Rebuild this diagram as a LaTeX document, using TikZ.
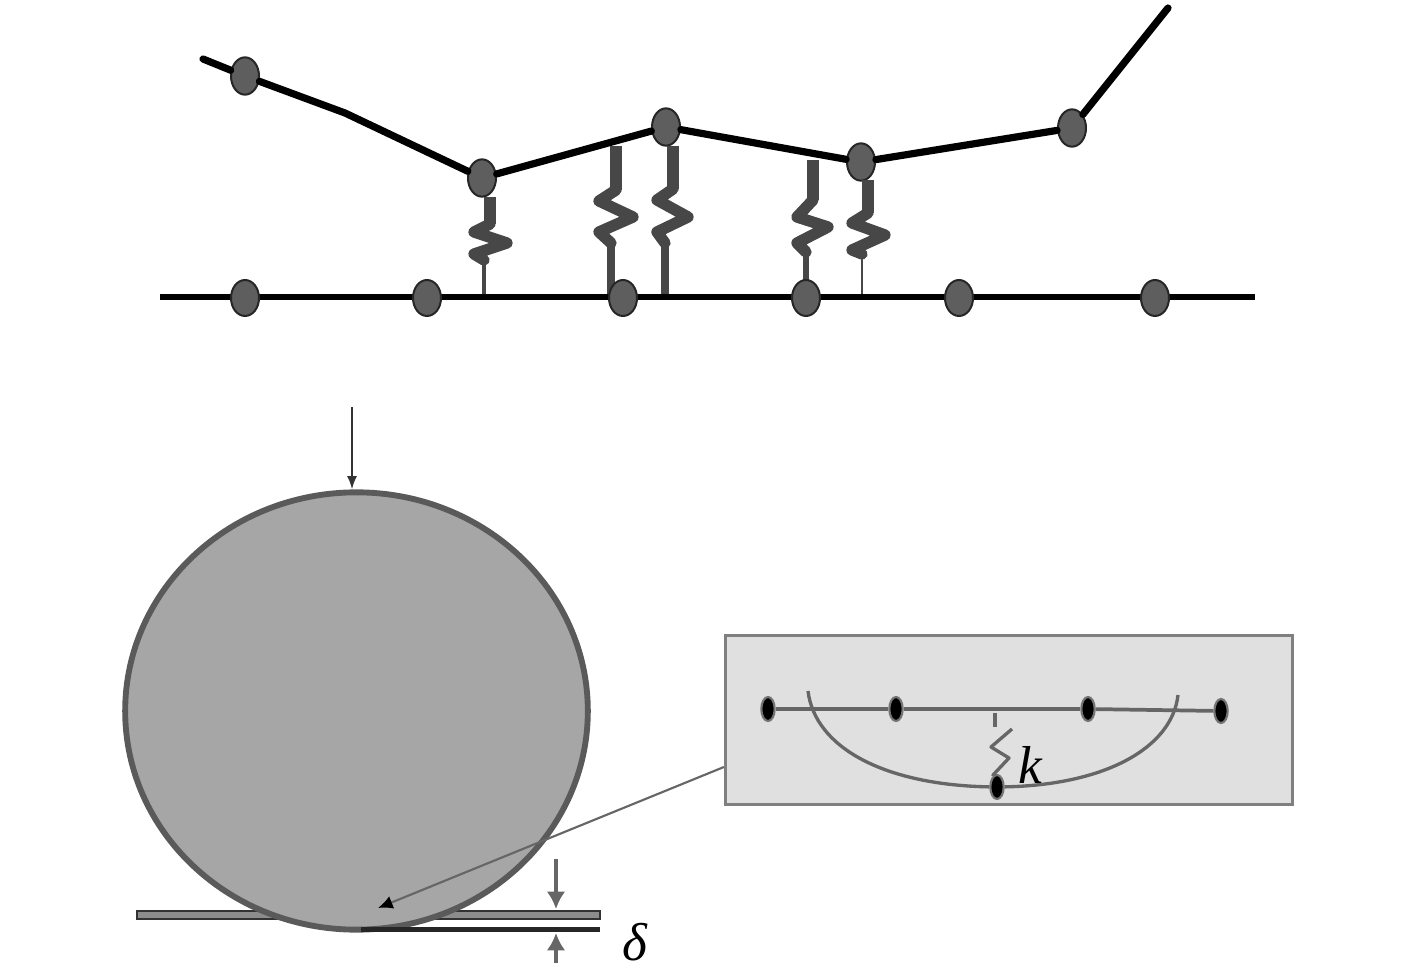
\documentclass[tikz,border=0pt]{standalone}
\usepackage{fontspec}
\setmainfont{Liberation Serif}
\usetikzlibrary{shapes.geometric,arrows.meta}
\definecolor{springc}{HTML}{474747}
\definecolor{nodec}{HTML}{5E5E5E}
\definecolor{bigc}{HTML}{A6A6A6}
\definecolor{bigs}{HTML}{5A5A5A}
\definecolor{boxf}{HTML}{E0E0E0}
\definecolor{boxs}{HTML}{808080}
\definecolor{leadc}{HTML}{666666}
\tikzset{
 px/.style={x=0.75pt,y=-0.75pt},
 topnode/.style={ellipse,draw=black!85,line width=1.5pt,fill=nodec,inner sep=0pt,minimum width=21pt,minimum height=28pt},
 lownode/.style={topnode,minimum width=21pt,minimum height=27pt},
 innode/.style={ellipse,fill=black,draw=black!55,line width=1.6pt,inner sep=0pt,minimum width=10pt,minimum height=18pt},
 beam/.style={draw=black,line width=5.4pt,line cap=round,line join=round},
 ground/.style={draw=black,line width=4.2pt},
 sstem/.style={draw=springc,line width=9pt},
 szig/.style={draw=springc,line width=8.5pt,line join=round,line cap=round},
 inline/.style={draw=leadc,line width=2.8pt},
 incurve/.style={draw=leadc,line width=2.5pt,line join=round},
 vals/.style={font=\itshape\fontsize{40pt}{40pt}\selectfont,inner sep=0pt},
}
\newcommand{\sprg}[9]{%
 \draw[sstem] (#1,#2) -- (#1,#3);
 \draw[szig] (#1,#3) -- #4 -- #5 -- #6 -- #7;
 \draw[draw=springc,line width=#9] #7 -- #8;
}
\begin{document}
\begin{tikzpicture}[px]
\useasboundingbox (0,0) rectangle (1417,969);
% top beam
\coordinate (tl) at (203,59);
\coordinate (tr) at (1168,8);
\node[topnode] (a1) at (245,76) {};
\node[topnode] (a2) at (482,178) {};
\node[topnode] (a3) at (666,127) {};
\node[topnode] (a4) at (861,162) {};
\node[topnode] (a5) at (1072,128) {};
\draw[beam] (tl) -- (a1);
\draw[beam] (a1) -- (345,113) -- (a2);
\draw[beam] (a2) -- (a3);
\draw[beam] (a3) -- (a4);
\draw[beam] (a4) -- (a5);
\draw[beam] (a5) -- (tr);
% springs
\sprg{490}{197}{224}{(474,232)}{(507,243)}{(474,254)}{(484,260)}{(484,295)}{3.4pt}
\sprg{616}{146}{190}{(599,201)}{(633,217)}{(599,232)}{(611,243)}{(611,295)}{6pt}
\sprg{673}{146}{189}{(657,200)}{(688,217)}{(657,232)}{(665,243)}{(665,295)}{6pt}
\sprg{813}{160}{200}{(797,217)}{(828,227)}{(797,243)}{(806,252)}{(806,295)}{4.6pt}
\sprg{868}{180}{213}{(852,223)}{(885,235)}{(852,250)}{(862,254)}{(862,295)}{2.2pt}
% ground line
\coordinate (gl) at (160,297);
\coordinate (gr) at (1255,297);
\draw[ground] (gl) -- (gr);
\foreach \n/\x in {b1/245,b2/427,b3/623,b4/806,b5/959,b6/1155}
  \node[lownode] (\n) at (\x,298) {};
% plate
\draw[draw=black!80,fill=black!45,line width=2.2pt] (137,911) rectangle (600,919);
% big circle
\node[ellipse,draw=bigs,fill=bigc,line width=4.4pt,inner sep=0pt,minimum width=347pt,minimum height=328pt] (disc) at (356.5,711) {};
\draw[draw=black!85,line width=3.4pt] (361,929.5) -- (600,929.5);
% load arrow
\coordinate (load) at (352,407);
\draw[draw=black!80,line width=1.5pt,-{Latex[length=10pt,width=7.5pt]}] (load) -- (disc.north -| load);
% delta arrows
\draw[draw=leadc,line width=2.6pt,-{Latex[length=13pt,width=14pt]}] (556,859) -- (556,909);
\draw[draw=leadc,line width=2.6pt,-{Latex[length=13pt,width=14pt]}] (556,963) -- (556,933);
\node[vals,anchor=base] (delta) at (635,960) {δ};
% inset box
\node[draw=boxs,fill=boxf,line width=2.6pt,minimum width=425pt,minimum height=127pt,inner sep=0pt] (inset) at (1009,720) {};
\draw[draw=leadc,line width=1.6pt,-{Latex[length=11pt,width=10pt,color=black]}] (inset.west |- 0,767) -- (378,908);
\node[innode] (c1) at (768,709) {};
\node[innode] (c2) at (896,709) {};
\node[innode] (c3) at (1088,709) {};
\node[innode] (c4) at (1221,711) {};
\node[innode] (c5) at (997,787) {};
\draw[inline] (c1) -- (c2);
\draw[inline] (c2) -- (c3);
\draw[inline] (c3) -- (c4);
\draw[incurve] (808,691) .. controls (815,748) and (885,785) .. (c5);
\draw[incurve] (1178,695) .. controls (1172,748) and (1105,785) .. (c5);
\draw[inline] (995,713) -- (995,727);
\draw[incurve] (1012,729) -- (991,747) -- (1009,758) -- (993,775) -- (c5);
\node[vals,anchor=base] (k) at (1030,783) {k};
\end{tikzpicture}
\end{document}
